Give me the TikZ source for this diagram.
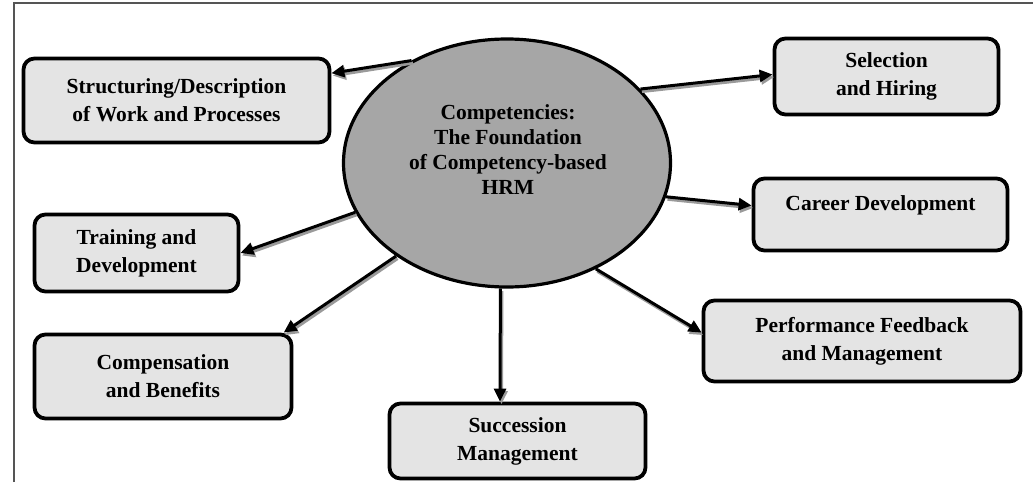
\documentclass[tikz,border=0pt]{standalone}
\usepackage{fontspec}
\setmainfont{Liberation Serif}
\usetikzlibrary{arrows.meta,shapes.geometric}
\definecolor{boxgray}{HTML}{E4E4E4}
\definecolor{hubgray}{HTML}{A6A6A6}
\definecolor{shadowgray}{HTML}{9A9A9A}
\definecolor{framegray}{HTML}{555555}
\begin{document}
\begin{tikzpicture}[x=1pt,y=-1pt,
  box/.style={draw=black, line width=3.8pt, rounded corners=11pt, fill=boxgray,
    inner sep=0pt, align=center, font=\fontsize{21.5}{28}\selectfont\bfseries},
  hub/.style={ellipse, draw=black, line width=3.2pt, fill=hubgray, inner sep=0pt,
    minimum width=327pt, minimum height=248pt},
  hubtext/.style={align=center, inner sep=0pt, font=\fontsize{21.5}{25}\selectfont\bfseries},
  link/.style={line width=3pt, -{Triangle[length=13pt,width=12pt]},
    preaction={draw=shadowgray, line width=3pt, transform canvas={shift={(1.5pt,-2.5pt)}}}}
]
% canvas and frame
\useasboundingbox (0,0) rectangle (1033,482);
\coordinate (fbl) at (14,482);
\coordinate (ftl) at (14,3);
\coordinate (ftr) at (1033,3);
\draw[framegray, line width=1.3pt] (fbl) -- (ftl) -- (ftr);

% central ellipse
\node[hub] (hub) at (507,163) {};
\node[hubtext] (hubtxt) at (508,150) {Competencies:\\The Foundation\\of Competency-based\\HRM};

% surrounding boxes
\node[box, minimum width=306pt, minimum height=84pt] (struct) at (176.5,100.5)
  {Structuring/Description\\of Work and Processes};
\node[box, minimum width=224pt, minimum height=76pt] (select) at (886.5,76.5)
  {Selection\\and Hiring};
\node[box, minimum width=254pt, minimum height=72pt, text depth=22pt] (career) at (880.5,214.5)
  {Career Development};
\node[box, minimum width=317pt, minimum height=81pt] (perf) at (862,341)
  {Performance Feedback\\and Management};
\node[box, minimum width=256pt, minimum height=75pt] (succ) at (517.5,441)
  {Succession\\Management};
\node[box, minimum width=257pt, minimum height=84pt] (comp) at (163,376.5)
  {Compensation\\and Benefits};
\node[box, minimum width=204pt, minimum height=77pt] (train) at (136.5,253)
  {Training and\\Development};

% connectors
\draw[link] (hub.133) -- (struct.10.8);
\draw[link] (hub.29.7) -- (select.179.2);
\draw[link] (hub.-12.4) -- (career.176);
\draw[link] (hub.-50.7) -- (perf.177);
\draw[link] (hub.-93.2) -- (succ.114);
\draw[link] (hub.220) -- (comp.20);
\draw[link] (hub.198.8) -- (train.0.5);
\end{tikzpicture}
\end{document}
